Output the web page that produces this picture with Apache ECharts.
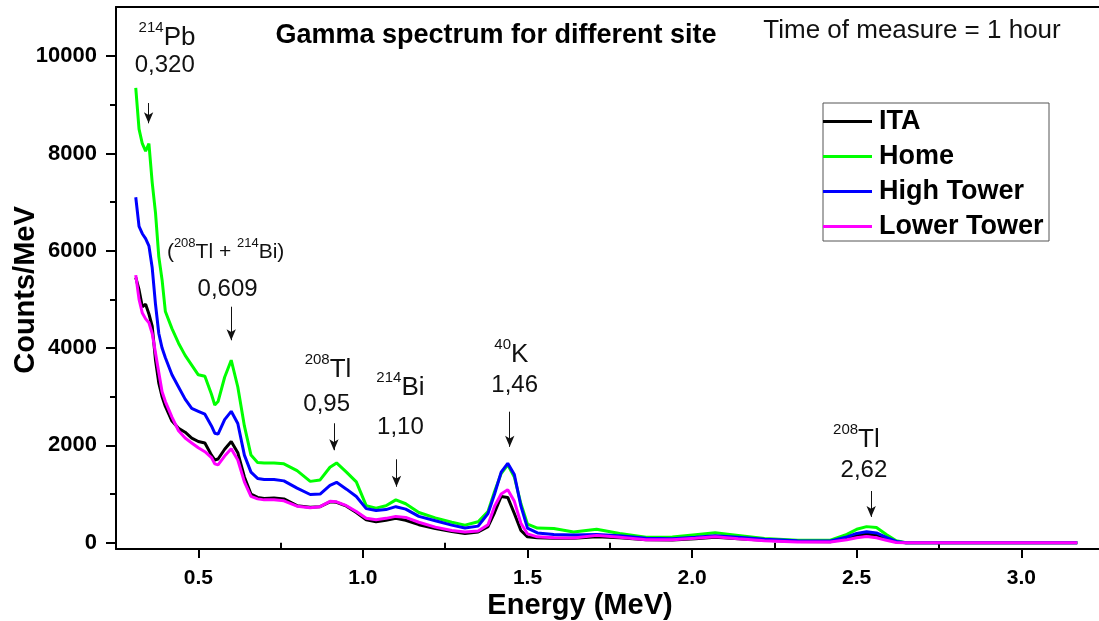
<!DOCTYPE html>
<html>
<head>
<meta charset="utf-8">
<script src="https://cdn.jsdelivr.net/npm/echarts@6.0.0/dist/echarts.min.js"></script>
<style>
html, body { margin: 0; padding: 0; background: #fff; }
#chart { width: 1099px; height: 621px; }
</style>
</head>
<body>
<div id="chart"></div>
<script>
var energy = [
    0.31, 0.32, 0.33, 0.34, 0.35, 0.36, 0.37, 0.38, 0.39, 0.40,
    0.42, 0.44, 0.46, 0.48, 0.50, 0.52, 0.54, 0.55, 0.56, 0.58,
    0.60, 0.62, 0.64, 0.66, 0.68, 0.70, 0.73, 0.76, 0.80, 0.84,
    0.87, 0.90, 0.92, 0.95, 0.98, 1.01, 1.04, 1.07, 1.10, 1.13,
    1.17, 1.22, 1.27, 1.31, 1.35, 1.38, 1.40, 1.42, 1.44, 1.46,
    1.48, 1.50, 1.53, 1.58, 1.64, 1.71, 1.78, 1.86, 1.94, 2.01,
    2.07, 2.14, 2.22, 2.32, 2.42, 2.47, 2.50, 2.53, 2.56, 2.59,
    2.62, 2.65, 2.70, 2.90, 3.17
];
var ita = [
    5450, 5200, 4850, 4900, 4700, 4450, 3750, 3280, 3000, 2800,
    2500, 2350, 2270, 2150, 2080, 2050, 1800, 1700, 1720, 1920,
    2080, 1850, 1350, 1000, 930, 910, 920, 900, 760, 730,
    740, 840, 830, 750, 620, 470, 430, 460, 500, 460,
    370, 290, 230, 190, 220, 330, 620, 950, 930, 600,
    250, 120, 100, 90, 90, 120, 100, 60, 55, 80,
    110, 80, 50, 25, 20, 100, 150, 180, 160, 80,
    15, 0, 0, 0, 0
];
var home = [
    9350, 8500, 8200, 8050, 8200, 7400, 6780, 5880, 5400, 4750,
    4400, 4100, 3850, 3650, 3450, 3420, 3050, 2830, 2900, 3400,
    3750, 3200, 2400, 1800, 1650, 1640, 1640, 1620, 1480, 1260,
    1290, 1550, 1640, 1450, 1250, 760, 710, 760, 880, 800,
    620, 510, 420, 360, 430, 640, 1050, 1420, 1600, 1350,
    800, 380, 300, 290, 220, 275, 190, 110, 115, 165,
    205, 150, 85, 50, 50, 170, 275, 330, 310, 170,
    40, 0, 0, 0, 0
];
var highTower = [
    7100, 6500, 6350, 6250, 6100, 5650, 4900, 4300, 4000, 3800,
    3450, 3200, 2950, 2760, 2700, 2640, 2400, 2250, 2230, 2530,
    2700, 2450, 1800, 1450, 1320, 1300, 1300, 1270, 1120, 990,
    1000, 1180, 1240, 1100, 950, 700, 660, 680, 740, 690,
    540, 450, 360, 300, 340, 600, 1000, 1450, 1630, 1400,
    750, 300, 200, 170, 160, 170, 140, 90, 80, 110,
    140, 110, 70, 40, 35, 120, 190, 225, 200, 110,
    25, 0, 0, 0, 0
];
var lowerTower = [
    5500, 5000, 4720, 4600, 4520, 4300, 3900, 3500, 3100, 2900,
    2580, 2300, 2150, 2050, 1950, 1870, 1750, 1620, 1600, 1780,
    1930, 1700, 1250, 950, 900, 880, 880, 860, 750, 720,
    740, 850, 840, 760, 640, 500, 470, 500, 540, 520,
    420, 320, 250, 220, 240, 370, 750, 1000, 1090, 850,
    400, 180, 120, 100, 95, 150, 110, 60, 60, 90,
    120, 80, 40, 15, 15, 60, 100, 125, 100, 50,
    5, 0, 0, 0, 0
];
var seriesNames = ['ITA', 'Home', 'High Tower', 'Lower Tower'];
var seriesColors = ['#000000', '#00ff00', '#0000ff', '#ff00ff'];
var seriesValues = [ita, home, highTower, lowerTower];

var yLabels = [0, 2000, 4000, 6000, 8000, 10000];
var yMinor = [1000, 3000, 5000, 7000, 9000];
var xLabels = [0.5, 1.0, 1.5, 2.0, 2.5, 3.0];
var xMinor = [0.25, 0.75, 1.25, 1.75, 2.25, 2.75];

// peak notes, placed in data coordinates (text centre)
var noteTexts = [
    [[0.405, 10370], '{s|214}{e|Pb}'],
    [[0.398, 9800], '{n|0,320}'],
    [[0.583, 5974], '{p|(}{s2|208}{p|Tl + }{s2|214}{p|Bi)}'],
    [[0.589, 5214], '{n|0,609}'],
    [[0.894, 3549], '{s|208}{e|Tl}'],
    [[0.890, 2850], '{n|0,95}'],
    [[1.114, 3179], '{s|214}{e|Bi}'],
    [[1.114, 2378], '{n|1,10}'],
    [[1.451, 3857], '{s|40}{e|K}'],
    [[1.461, 3241], '{n|1,46}'],
    [[2.499, 2110], '{s|208}{e|Tl}'],
    [[2.522, 1494], '{n|2,62}']
];
var noteArrows = [
    [[0.349, 9036], [0.349, 8620]],
    [[0.600, 4850], [0.600, 4160]],
    [[0.912, 2454], [0.912, 1900]],
    [[1.102, 1714], [1.102, 1150]],
    [[1.446, 2692], [1.446, 1970]],
    [[2.544, 1062], [2.544, 530]]
];

var FONT = 'Liberation Sans, Arial, sans-serif';
var myChart = echarts.init(document.getElementById('chart'));

function buildSeries() {
    var list = [];
    for (var k = 0; k < seriesNames.length; k++) {
        var pts = [];
        for (var i = 0; i < energy.length; i++) {
            pts.push([energy[i], seriesValues[k][i]]);
        }
        list.push({
            name: seriesNames[k],
            type: 'line',
            data: pts,
            symbol: 'none',
            showSymbol: false,
            lineStyle: { color: seriesColors[k], width: 3 },
            itemStyle: { color: seriesColors[k] },
            z: 2 + k
        });
    }
    var marks = [];
    for (var j = 0; j < noteTexts.length; j++) {
        marks.push({
            coord: noteTexts[j][0],
            symbol: 'circle',
            symbolSize: 1,
            itemStyle: { color: 'rgba(0,0,0,0)' },
            label: { show: true, position: 'inside', formatter: noteTexts[j][1] }
        });
    }
    var arrows = [];
    for (var a = 0; a < noteArrows.length; a++) {
        arrows.push([{ coord: noteArrows[a][0] }, { coord: noteArrows[a][1] }]);
    }
    list.push({
        name: 'notes',
        type: 'line',
        data: [],
        silent: true,
        z: 10,
        markPoint: {
            silent: true,
            data: marks,
            label: {
                color: '#111',
                fontFamily: FONT,
                rich: {
                    s: { fontSize: 15, fontFamily: FONT, color: '#111', verticalAlign: 'top', lineHeight: 14 },
                    e: { fontSize: 26, fontFamily: FONT, color: '#111', lineHeight: 36 },
                    n: { fontSize: 24, fontFamily: FONT, color: '#111' },
                    s2: { fontSize: 13, fontFamily: FONT, color: '#111', verticalAlign: 'top', lineHeight: 11 },
                    p: { fontSize: 21, fontFamily: FONT, color: '#111', lineHeight: 30 }
                }
            }
        },
        markLine: {
            silent: true,
            symbol: ['none', 'arrow'],
            symbolSize: [7, 11],
            label: { show: false },
            lineStyle: { color: '#111', width: 1, type: 'solid' },
            data: arrows
        }
    });
    return list;
}

var xMin = 0.25, xMax = 3.236;
var yMin = -130, yMax = 11010;

option = {
    animation: false,
    grid: { left: 116, right: 0, top: 7, bottom: 72, outerBoundsMode: 'none' },
    legend: {
        data: seriesNames,
        orient: 'vertical',
        left: 823,
        top: 103,
        icon: 'rect',
        itemWidth: 49,
        itemHeight: 3,
        itemGap: 8,
        padding: [5, 0, 1, 0],
        borderColor: '#555',
        borderWidth: 1,
        selectedMode: false,
        textStyle: {
            fontFamily: FONT, fontWeight: 'bold', fontSize: 27, color: '#000',
            lineHeight: 26, width: 170, padding: [0, 0, 0, 2]
        }
    },
    graphic: [
        {
            type: 'text', x: 496, y: 36,
            style: {
                text: 'Gamma spectrum for different site',
                font: 'bold 27px ' + FONT, fill: '#000',
                align: 'center', verticalAlign: 'middle'
            }
        },
        {
            type: 'text', x: 912, y: 31,
            style: {
                text: 'Time of measure = 1 hour',
                font: '26px ' + FONT, fill: '#111',
                align: 'center', verticalAlign: 'middle'
            }
        }
    ],
    xAxis: [
        {
            type: 'value', min: xMin, max: xMax, position: 'bottom',
            name: 'Energy (MeV)', nameLocation: 'middle', nameGap: 42, nameMoveOverlap: false,
            nameTextStyle: { fontFamily: FONT, fontWeight: 'bold', fontSize: 29, color: '#000', padding: [0, 55, 0, 0] },
            axisLine: { show: true, onZero: false, lineStyle: { color: '#000', width: 2 } },
            axisTick: { show: true, length: 9, customValues: xLabels, lineStyle: { color: '#000', width: 2 } },
            axisLabel: {
                show: true, margin: 19, customValues: xLabels,
                fontFamily: FONT, fontWeight: 'bold', fontSize: 21, color: '#000',
                formatter: function (v) { return v.toFixed(1); }
            },
            splitLine: { show: false }
        },
        {
            type: 'value', min: xMin, max: xMax, position: 'bottom',
            axisLine: { show: false },
            axisTick: { show: true, length: 6, customValues: xMinor, lineStyle: { color: '#000', width: 2 } },
            axisLabel: { show: false },
            splitLine: { show: false }
        },
        {
            type: 'value', min: xMin, max: xMax, position: 'top',
            axisLine: { show: true, onZero: false, lineStyle: { color: '#000', width: 2 } },
            axisTick: { show: false },
            axisLabel: { show: false },
            splitLine: { show: false }
        }
    ],
    yAxis: [
        {
            type: 'value', min: yMin, max: yMax, position: 'left',
            name: 'Counts/MeV', nameLocation: 'middle', nameGap: 76, nameMoveOverlap: false,
            nameTextStyle: { fontFamily: FONT, fontWeight: 'bold', fontSize: 29, color: '#000', padding: [0, 24, 0, 0] },
            axisLine: { show: true, onZero: false, lineStyle: { color: '#000', width: 2 } },
            axisTick: { show: true, length: 10, customValues: yLabels, lineStyle: { color: '#000', width: 2 } },
            axisLabel: {
                show: true, margin: 19, customValues: yLabels,
                fontFamily: FONT, fontWeight: 'bold', fontSize: 22, color: '#000',
                formatter: function (v) { return String(v); }
            },
            splitLine: { show: false }
        },
        {
            type: 'value', min: yMin, max: yMax, position: 'left',
            axisLine: { show: false },
            axisTick: { show: true, length: 6, customValues: yMinor, lineStyle: { color: '#000', width: 2 } },
            axisLabel: { show: false },
            splitLine: { show: false }
        }
    ],
    series: buildSeries()
};

myChart.setOption(option);
</script>
</body>
</html>
